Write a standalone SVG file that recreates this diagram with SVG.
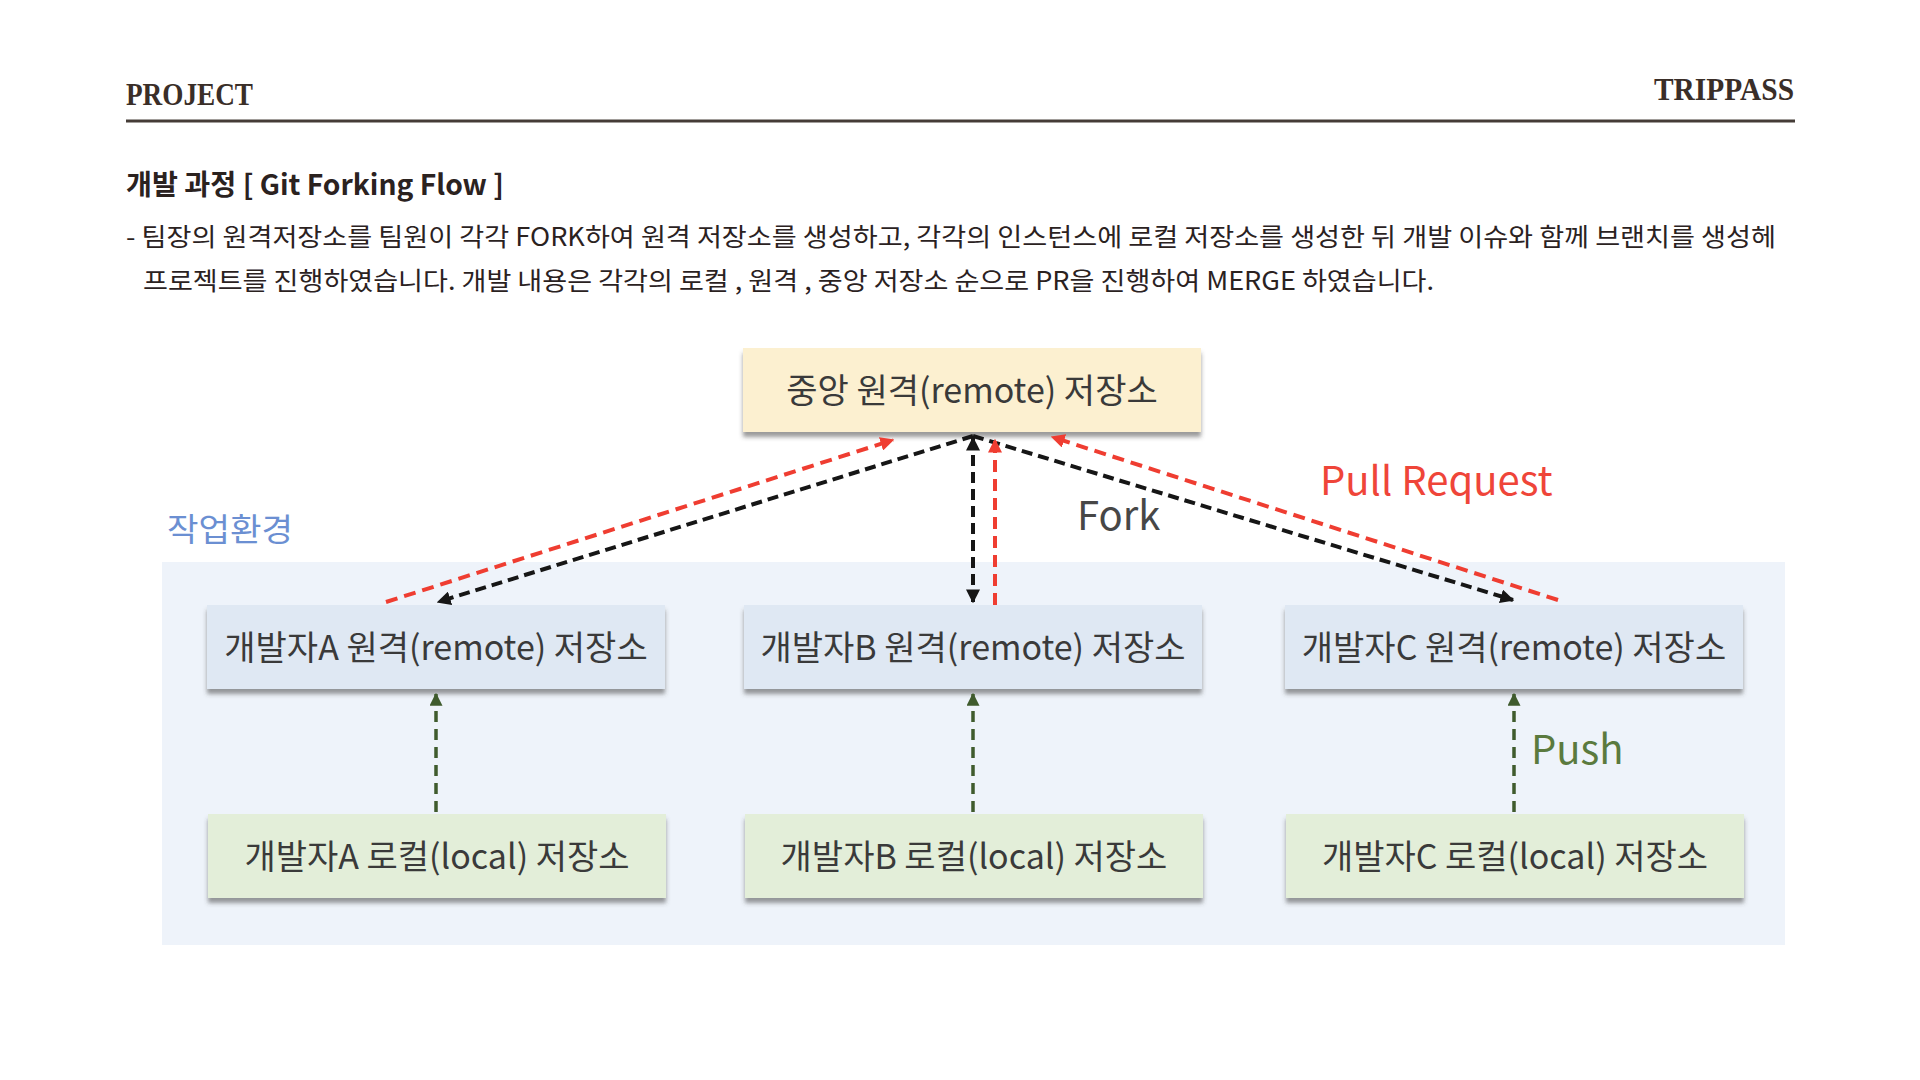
<svg xmlns="http://www.w3.org/2000/svg" width="1920" height="1080" viewBox="0 0 1920 1080">
  <style>
    .hdr { font-family: "Liberation Serif", "DejaVu Serif", serif; font-weight: 700; font-size: 31px; fill: #3a2e28; }
    .title { font-family: "Noto Sans CJK KR", "Noto Sans", sans-serif; font-weight: 700; font-size: 28px; fill: #2b221f; }
    .body { font-family: "Noto Sans CJK KR", "Noto Sans", sans-serif; font-weight: 400; font-size: 25px; fill: #2b221f; }
    .node-text { font-family: "Noto Sans CJK KR", "Noto Sans", sans-serif; font-weight: 400; font-size: 34px; fill: #3a3a3a; text-anchor: middle; }
    .central { fill: #fcf0d0; }
    .remote { fill: #dfe8f3; }
    .local { fill: #e3eed9; }
    .env { fill: #eef3fa; }
    .fork { fill: none; stroke: #161616; stroke-width: 4; stroke-dasharray: 11 6; }
    .pr { fill: none; stroke: #ef3d31; stroke-width: 4; stroke-dasharray: 12 7; }
    .push { fill: none; stroke: #3f5b2d; stroke-width: 3.5; stroke-dasharray: 11 7; }
    .lbl { font-family: "Noto Sans CJK KR", "Noto Sans", sans-serif; font-weight: 400; font-size: 40px; }
  </style>
  <defs>
    <filter id="shadow" x="-5%" y="-10%" width="110%" height="140%">
      <feDropShadow dx="0" dy="5" stdDeviation="2" flood-color="#4a4a4a" flood-opacity="0.55"/>
    </filter>
    <marker id="ah-black" viewBox="0 0 10 10" refX="9" refY="5" markerWidth="14" markerHeight="14" markerUnits="userSpaceOnUse" orient="auto-start-reverse">
      <path d="M0,0 L10,5 L0,10 z" fill="#161616"/>
    </marker>
    <marker id="ah-red" viewBox="0 0 10 10" refX="9" refY="5" markerWidth="14" markerHeight="14" markerUnits="userSpaceOnUse" orient="auto-start-reverse">
      <path d="M0,0 L10,5 L0,10 z" fill="#ef3d31"/>
    </marker>
    <marker id="ah-green" viewBox="0 0 10 10" refX="9" refY="5" markerWidth="13" markerHeight="13" markerUnits="userSpaceOnUse" orient="auto-start-reverse">
      <path d="M0,0 L10,5 L0,10 z" fill="#3f5b2d"/>
    </marker>
  </defs>

  <rect x="0" y="0" width="1920" height="1080" fill="#ffffff"/>

  <!-- Header -->
  <g id="header">
    <text class="hdr" x="126" y="105" textLength="127" lengthAdjust="spacingAndGlyphs">PROJECT</text>
    <text class="hdr" x="1794" y="100" text-anchor="end" textLength="140" lengthAdjust="spacingAndGlyphs">TRIPPASS</text>
    <line x1="126" y1="121" x2="1795" y2="121" stroke="#453c37" stroke-width="3"/>
  </g>

  <g id="description">
    <text class="title" x="126" y="195" textLength="378" lengthAdjust="spacingAndGlyphs">개발 과정 [ Git Forking Flow ]</text>
    <text class="body" x="126" y="246" textLength="1650" lengthAdjust="spacingAndGlyphs">- 팀장의 원격저장소를 팀원이 각각 FORK하여 원격 저장소를 생성하고, 각각의 인스턴스에 로컬 저장소를 생성한 뒤 개발 이슈와 함께 브랜치를 생성헤</text>
    <text class="body" x="143" y="290" textLength="1291" lengthAdjust="spacingAndGlyphs">프로젝트를 진행하였습니다. 개발 내용은 각각의 로컬 , 원격 , 중앙 저장소 순으로 PR을 진행하여 MERGE 하였습니다.</text>
  </g>

  <!-- Work environment -->
  <g id="env">
    <rect class="env" x="162" y="562" width="1623" height="383"/>
    <text class="lbl" x="167" y="541" style="font-size:32px;fill:#6b8fd2;" textLength="126" lengthAdjust="spacingAndGlyphs">작업환경</text>
  </g>

  <!-- Nodes -->
  <g id="node-central">
    <rect class="central" x="743" y="348" width="458" height="84" filter="url(#shadow)"/>
    <text class="node-text" x="972" y="403">중앙 원격(remote) 저장소</text>
  </g>

  <g id="node-remote-a">
    <rect class="remote" x="207" y="605" width="458" height="84" filter="url(#shadow)"/>
    <text class="node-text" x="436" y="660">개발자A 원격(remote) 저장소</text>
  </g>
  <g id="node-remote-b">
    <rect class="remote" x="744" y="605" width="458" height="84" filter="url(#shadow)"/>
    <text class="node-text" x="973" y="660">개발자B 원격(remote) 저장소</text>
  </g>
  <g id="node-remote-c">
    <rect class="remote" x="1285" y="605" width="458" height="84" filter="url(#shadow)"/>
    <text class="node-text" x="1514" y="660">개발자C 원격(remote) 저장소</text>
  </g>

  <g id="node-local-a">
    <rect class="local" x="208" y="814" width="458" height="84" filter="url(#shadow)"/>
    <text class="node-text" x="437" y="869">개발자A 로컬(local) 저장소</text>
  </g>
  <g id="node-local-b">
    <rect class="local" x="745" y="814" width="458" height="84" filter="url(#shadow)"/>
    <text class="node-text" x="974" y="869">개발자B 로컬(local) 저장소</text>
  </g>
  <g id="node-local-c">
    <rect class="local" x="1286" y="814" width="458" height="84" filter="url(#shadow)"/>
    <text class="node-text" x="1515" y="869">개발자C 로컬(local) 저장소</text>
  </g>

  <!-- Connectors -->
  <g id="connectors">
    <!-- Fork (black) -->
    <line class="fork" x1="973" y1="436" x2="438" y2="602" marker-end="url(#ah-black)"/>
    <line class="fork" x1="973" y1="438" x2="973" y2="602" marker-start="url(#ah-black)" marker-end="url(#ah-black)"/>
    <line class="fork" x1="973" y1="436" x2="1513" y2="600" marker-end="url(#ah-black)"/>
    <!-- Pull Request (red) -->
    <line class="pr" x1="386" y1="602" x2="893" y2="440" marker-end="url(#ah-red)"/>
    <line class="pr" x1="995" y1="605" x2="995" y2="440" marker-end="url(#ah-red)"/>
    <line class="pr" x1="1558" y1="600" x2="1052" y2="437" marker-end="url(#ah-red)"/>
    <!-- Push (green) -->
    <line class="push" x1="436" y1="812" x2="436" y2="694" marker-end="url(#ah-green)"/>
    <line class="push" x1="973" y1="812" x2="973" y2="694" marker-end="url(#ah-green)"/>
    <line class="push" x1="1514" y1="812" x2="1514" y2="694" marker-end="url(#ah-green)"/>
    <!-- Labels -->
    <text class="lbl" x="1077" y="530" style="fill:#474747;">Fork</text>
    <text class="lbl" x="1320" y="495" style="fill:#ef4539;">Pull Request</text>
    <text class="lbl" x="1531" y="764" style="fill:#5b7a3e;">Push</text>
  </g>
</svg>
